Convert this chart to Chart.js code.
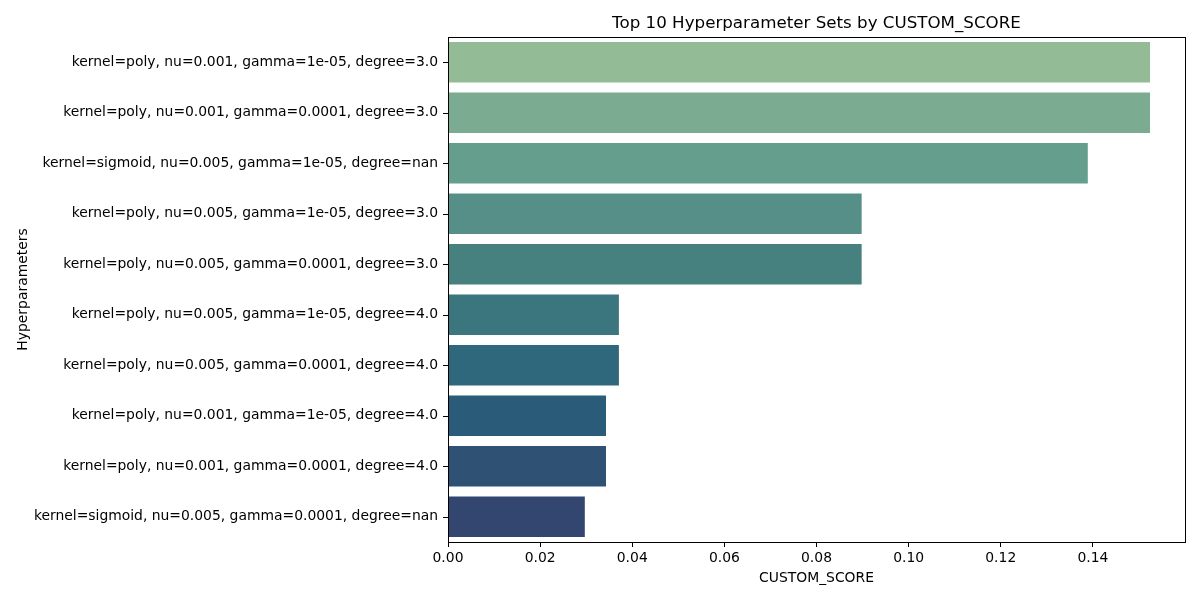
<!DOCTYPE html>
<html>
<head>
<meta charset="utf-8">
<script src="https://cdn.jsdelivr.net/npm/chart.js@4/dist/chart.umd.min.js"></script>
<style>
  html, body { margin: 0; padding: 0; background: #fff; }
  #wrap { width: 1200px; height: 600px; }
</style>
</head>
<body>
<div id="wrap"><canvas id="chartScores"></canvas></div>
<script>
// data
const categories = [
  'kernel=poly, nu=0.001, gamma=1e-05, degree=3.0',
  'kernel=poly, nu=0.001, gamma=0.0001, degree=3.0',
  'kernel=sigmoid, nu=0.005, gamma=1e-05, degree=nan',
  'kernel=poly, nu=0.005, gamma=1e-05, degree=3.0',
  'kernel=poly, nu=0.005, gamma=0.0001, degree=3.0',
  'kernel=poly, nu=0.005, gamma=1e-05, degree=4.0',
  'kernel=poly, nu=0.005, gamma=0.0001, degree=4.0',
  'kernel=poly, nu=0.001, gamma=1e-05, degree=4.0',
  'kernel=poly, nu=0.001, gamma=0.0001, degree=4.0',
  'kernel=sigmoid, nu=0.005, gamma=0.0001, degree=nan'
];
const scores = [0.1524, 0.1524, 0.1389, 0.0898, 0.0898, 0.0371, 0.0371, 0.0343, 0.0343, 0.0297];
const barColors = ['#93bb96', '#7bac92', '#659e8c', '#558f87', '#46807f', '#3b757e', '#2f677c', '#2a5b78', '#2e5174', '#33466f'];
const xTicks = [0, 0.02, 0.04, 0.06, 0.08, 0.10, 0.12, 0.14];
const xMax = 0.16;

const FONT = 'DejaVu Sans';

// box around the plot area (matplotlib spines) + tick marks at each category
const frame = {
  id: 'frame',
  afterDraw(chart) {
    const { ctx, chartArea: a } = chart;
    const yScale = chart.scales.y;
    ctx.save();
    ctx.strokeStyle = '#000';
    ctx.lineWidth = 1;
    ctx.strokeRect(Math.round(a.left) + 0.5, Math.round(a.top) + 0.5,
      Math.round(a.right - a.left), Math.round(a.bottom - a.top));
    ctx.beginPath();
    yScale.ticks.forEach((t, i) => {
      const py = Math.round(yScale.getPixelForTick(i)) + 0.5;
      ctx.moveTo(Math.round(a.left) - 5, py);
      ctx.lineTo(Math.round(a.left), py);
    });
    ctx.stroke();
    ctx.restore();
  }
};

new Chart(document.getElementById('chartScores'), {
  type: 'bar',
  data: {
    labels: categories,
    datasets: [{
      label: 'CUSTOM_SCORE',
      data: scores,
      backgroundColor: barColors,
      borderWidth: 0,
      barPercentage: 0.8,
      categoryPercentage: 1.0
    }]
  },
  options: {
    indexAxis: 'y',
    responsive: true,
    maintainAspectRatio: false,
    devicePixelRatio: 1,
    animation: false,
    layout: { padding: { left: 0, right: 15, top: 0, bottom: 0 } },
    plugins: {
      legend: { display: false },
      tooltip: { enabled: false },
      title: { display: false }
    },
    scales: {
      x: {
        min: 0,
        max: xMax,
        afterFit(scale) { scale.height = 58; },
        afterBuildTicks(scale) {
          scale.ticks = xTicks.map(v => ({ value: v }));
        },
        ticks: {
          color: '#000',
          font: { family: FONT, size: 13.9 },
          padding: 3,
          maxRotation: 0,
          callback: v => Number(v).toFixed(2)
        },
        grid: { display: true, drawOnChartArea: false, drawTicks: true, tickLength: 5, tickColor: '#000' },
        border: { display: true, color: '#000', width: 1 },
        title: {
          display: true,
          text: 'CUSTOM_SCORE',
          color: '#000',
          font: { family: FONT, size: 13.9 },
          padding: { top: 0, bottom: 13 }
        }
      },
      // top axis only carries the chart title, centred over the plot area
      xTop: {
        type: 'linear',
        position: 'top',
        afterFit(scale) { scale.height = 37; },
        ticks: { display: false },
        grid: { display: false },
        border: { display: false },
        title: {
          display: true,
          text: 'Top 10 Hyperparameter Sets by CUSTOM_SCORE',
          color: '#000',
          font: { family: FONT, size: 16.7, weight: 'normal' },
          padding: { top: 14, bottom: 0 }
        }
      },
      y: {
        afterFit(scale) { scale.width = 448; },
        ticks: {
          color: '#000',
          font: { family: FONT, size: 13.9 },
          padding: 10
        },
        grid: { display: false, drawTicks: false },
        border: { display: true, color: '#000', width: 1 },
        title: {
          display: true,
          text: 'Hyperparameters',
          color: '#000',
          font: { family: FONT, size: 13.9 },
          padding: { top: 15, bottom: 0 }
        }
      }
    }
  },
  plugins: [frame]
});
</script>
</body>
</html>
